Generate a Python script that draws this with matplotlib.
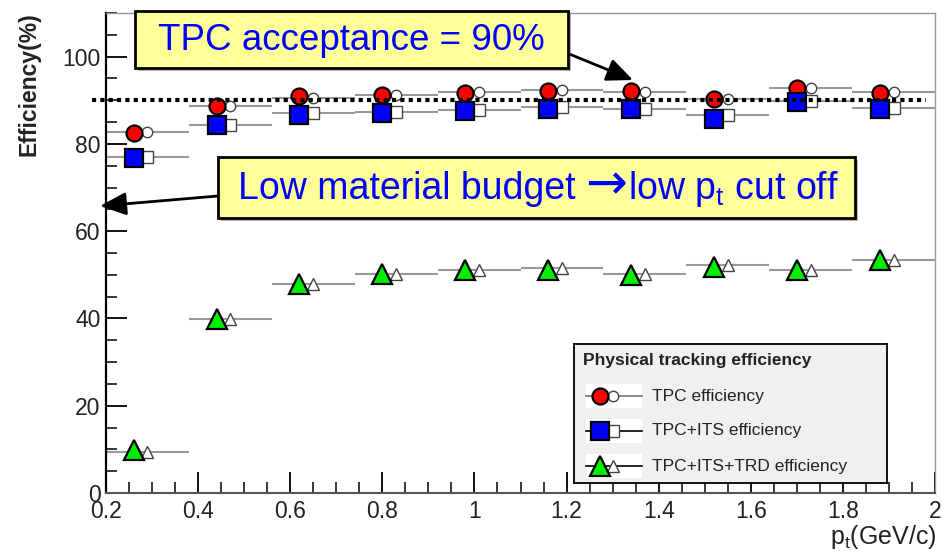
import numpy as np
import matplotlib
matplotlib.use('Agg')
import matplotlib.pyplot as plt
import matplotlib.patheffects as pe
from matplotlib.patches import Rectangle
from matplotlib.ticker import MultipleLocator, FixedFormatter

plt.rcParams['font.family'] = ['Liberation Sans', 'DejaVu Sans']
plt.rcParams['mathtext.fontset'] = 'custom'
plt.rcParams['mathtext.rm'] = 'Liberation Sans'
plt.rcParams['mathtext.it'] = 'Liberation Sans:italic'

# pt bins (GeV/c)
bin_lo = [0.20, 0.38, 0.56, 0.74, 0.92, 1.10, 1.28, 1.46, 1.64, 1.82]
bin_hi = [0.38, 0.56, 0.74, 0.92, 1.10, 1.28, 1.46, 1.64, 1.82, 2.00]

# efficiencies (%) - filled marker / open marker
tpc_fill = [82.5, 88.7, 91.0, 91.2, 91.7, 92.1, 92.2, 90.3, 92.7, 91.7]
tpc_open = [82.8, 88.6, 90.6, 91.1, 91.9, 92.3, 92.0, 90.2, 92.9, 91.8]
its_fill = [76.7, 84.4, 86.7, 87.1, 87.6, 88.1, 87.9, 85.8, 89.6, 88.1]
its_open = [77.0, 84.4, 87.0, 87.4, 87.7, 88.5, 87.9, 86.6, 89.9, 88.3]
trd_fill = [9.8, 39.8, 47.9, 50.1, 51.1, 51.2, 49.9, 51.8, 51.2, 53.5]
trd_open = [9.5, 39.8, 48.0, 50.1, 51.1, 51.5, 50.3, 52.2, 51.1, 53.4]

x_ticklabels = ['0.2', '0.4', '0.6', '0.8', '1', '1.2', '1.4', '1.6', '1.8', '2']
acceptance = 90

lo = np.array(bin_lo)
hi = np.array(bin_hi)
mid = (lo + hi) / 2

fig = plt.figure(figsize=(9.43, 5.51), dpi=100)
ax = fig.add_axes([106/943, 1 - 493/551, 829/943, 480/551])

series = [
    (tpc_fill, tpc_open, 'o', '#ff0000', 11.5, 7.5),
    (its_fill, its_open, 's', '#0000ff', 13.5, 9),
    (trd_fill, trd_open, '^', '#00ee00', 14, 9),
]
for fill, opn, mk, col, ms, ms_o in series:
    ax.hlines(opn, lo, hi, color='#999999', lw=1.5, zorder=2)
    ax.plot(mid, opn, ls='none', marker=mk, ms=ms_o, mfc='white', mec='#444444', mew=1, zorder=3)
    ax.plot(mid - 0.03, fill, ls='none', marker=mk, ms=ms, mfc=col, mec='black', mew=1.6, zorder=4)

# 90% acceptance line
ax.plot([0.17, 1.98], [acceptance, acceptance], color='black', lw=3, ls=(0, (1, 1)),
        clip_on=False, zorder=5)

ax.set_xlim(0.2, 2.0)
ax.set_ylim(0, 110)
ax.xaxis.set_minor_locator(MultipleLocator(0.05))
ax.yaxis.set_major_locator(MultipleLocator(20))
ax.yaxis.set_minor_locator(MultipleLocator(5))
ax.set_xticks(np.arange(0.2, 2.01, 0.2))
ax.xaxis.set_major_formatter(FixedFormatter(x_ticklabels))
ax.tick_params(which='major', direction='in', length=15, width=1.3, labelsize=16.5,
               labelcolor='#222222', pad=5)
ax.tick_params(which='minor', direction='in', length=8, width=1.1)
ax.tick_params(axis='y', pad=4)

ax.spines['left'].set_linewidth(1.6)
ax.spines['bottom'].set_color('#555555')
ax.spines['bottom'].set_linewidth(1.5)
for s in ['top', 'right']:
    ax.spines[s].set_color('#999999')
    ax.spines[s].set_linewidth(1)

fig.text(29/943, 1 - 84/551, 'Efficiency(%)', rotation=90, ha='center', va='center',
         fontsize=16.5, fontweight='bold', color='#222222')
fig.text(936/943, 1 - 537/551, r'p$_{\rm t}$(GeV/c)', ha='right', va='center',
         fontsize=18, color='#222222')


# callout boxes
def callout(x0, y0, x1, y1):
    r = Rectangle((x0/943, 1 - y1/551), (x1 - x0)/943, (y1 - y0)/551,
                  transform=fig.transFigure, fc='#ffff99', ec='black', lw=2, zorder=20,
                  path_effects=[pe.withSimplePatchShadow(offset=(2, -2), alpha=0.4)])
    fig.patches.append(r)


callout(135, 11, 568, 68)
fig.text(351/943, 1 - 40/551, 'TPC acceptance = 90%', ha='center', va='center',
         fontsize=26.5, color='#0000ff', zorder=21)

callout(218, 157, 855, 218)
# second box text laid out piece by piece so the arrow glyph can be larger
rend = fig.canvas.get_renderer()
pieces = [('Low material budget', 27, 'Liberation Sans', 'normal', 0),
          ('\u2192', 36, 'DejaVu Sans', 'normal', 9),
          ('low p$_{\\rm t}$ cut off', 27, 'Liberation Sans', 'normal', 1)]
xpos = 238
for txt, size, fam, wt, gap in pieces:
    xpos += gap
    t = fig.text(xpos/943, 1 - 199/551, txt, ha='left', va='baseline', fontsize=size,
                 family=fam, fontweight=wt, color='#0000ff', zorder=21)
    xpos += t.get_window_extent(rend).width

arrow = dict(arrowstyle='-|>,head_length=0.8,head_width=0.35', color='black', lw=2,
             mutation_scale=20, shrinkA=0, shrinkB=0)
ax.annotate('', xy=(633/943, 1 - 80/551), xytext=(557/943, 1 - 49/551),
            xycoords='figure fraction', textcoords='figure fraction',
            arrowprops=arrow, zorder=22, annotation_clip=False)
ax.annotate('', xy=(100/943, 1 - 206/551), xytext=(218/943, 1 - 196/551),
            xycoords='figure fraction', textcoords='figure fraction',
            arrowprops=arrow, zorder=22, annotation_clip=False)

# legend box drawn in its own pixel-like frame
leg = ax.inset_axes([(574 - 106)/829, (493 - 483)/480, 313/829, 139/480])
leg.set_xlim(0, 313)
leg.set_ylim(139, 0)
leg.set_xticks([])
leg.set_yticks([])
leg.set_facecolor('#f0f0f0')
for s in leg.spines.values():
    s.set_color('black')
    s.set_linewidth(1.3)
leg.set_zorder(15)
leg.text(9, 17, 'Physical tracking efficiency', fontsize=12.5, fontweight='bold',
         va='center', color='#222222')
names = ['TPC efficiency', 'TPC+ITS efficiency', 'TPC+ITS+TRD efficiency']
for i, (fill, opn, mk, col, ms, ms_o) in enumerate(series):
    yy = 52 + 35 * i
    leg.add_patch(Rectangle((12, yy - 12), 56, 24, fc='white', ec='none'))
    leg.plot([12, 68], [yy, yy], color='#777777' if i == 0 else 'black', lw=1.2)
    leg.plot([39], [yy], marker=mk, ms=ms_o, mfc='white', mec='#444444', mew=1, ls='none')
    leg.plot([26], [yy], marker=mk, ms=ms, mfc=col, mec='black', mew=1.6, ls='none')
    leg.text(78, yy, names[i], fontsize=12.5, va='center', color='#222222')

fig.savefig('out.png', dpi=100)
